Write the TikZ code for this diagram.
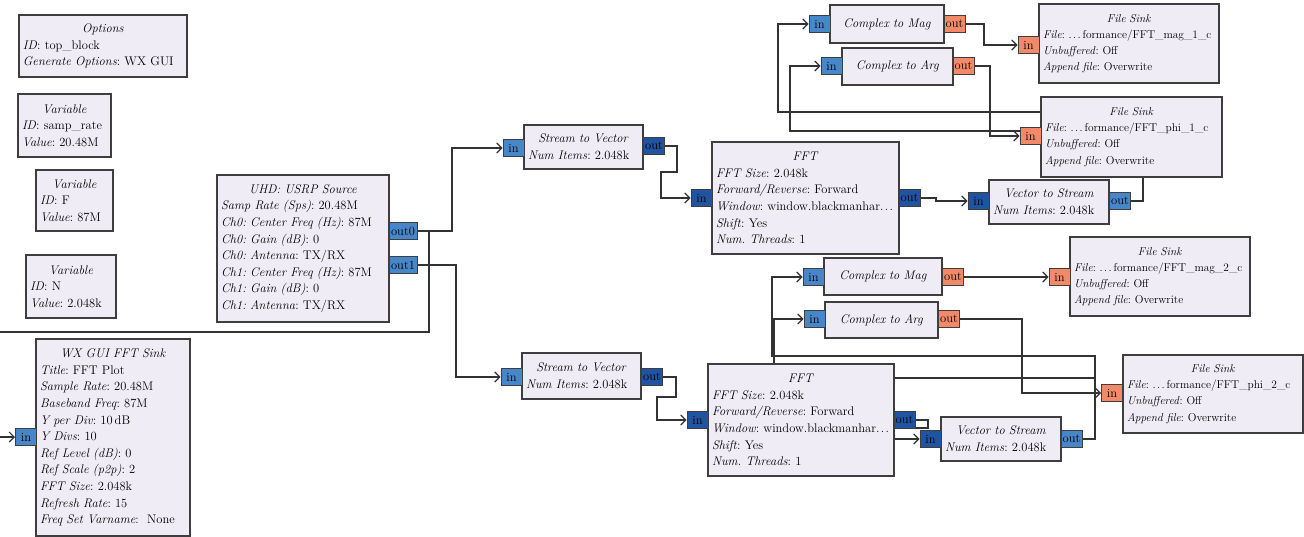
\documentclass[tikz,border=0pt]{standalone}
\usepackage{fontspec}
\usepackage{tikz}
\usetikzlibrary{arrows.meta,backgrounds}
\definecolor{blkfill}{RGB}{240,236,245}
\definecolor{blkline}{RGB}{62,62,62}
\definecolor{cplx}{RGB}{72,134,202}
\definecolor{vect}{RGB}{33,84,160}
\definecolor{flt}{RGB}{242,138,106}
\newcommand{\blktitle}[1]{\makebox[\linewidth]{\textit{#1}}}
\newcommand{\prm}[2]{\mbox{\textit{#1}: #2}}
\newcommand{\cut}{.\kern1.4pt.\kern1.4pt.}
\frenchspacing

\begin{document}
\begin{tikzpicture}[
  x=1pt, y=-1pt,
  font={\fontsize{12.5}{16.6}\selectfont},
  blk/.style={draw=blkline,fill=blkfill,line width=1.1pt,inner xsep=4pt,inner ysep=2pt,align=left},
  sink/.style={blk,font={\fontsize{11.4}{16.2}\selectfont}},
  port/.style={draw=blkline,line width=1pt,minimum width=21,minimum height=17,inner sep=0pt},
  cport/.style={port,fill=cplx},
  vport/.style={port,fill=vect},
  fport/.style={port,fill=flt},
  wire/.style={draw=black!80,line width=1.1pt},
  >={Straight Barb[length=5pt,width=10pt]}
]
\useasboundingbox (0,0) rectangle (1304,537);

% left column
\node[blk,text width=160pt,minimum height=62] (opt) at (103,46)
  {\blktitle{Options}\\\prm{ID}{top\_block}\\\prm{Generate Options}{WX GUI}};
\node[blk,text width=85pt,minimum height=63] (vrate) at (64.5,125.5)
  {\blktitle{Variable}\\\prm{ID}{samp\_rate}\\\prm{Value}{20.48M}};
\node[blk,text width=69pt,minimum height=61] (vfreq) at (74.5,200.5)
  {\blktitle{Variable}\\\prm{ID}{F}\\\prm{Value}{87M}};
\node[blk,text width=82pt,minimum height=63] (vsize) at (71,286.5)
  {\blktitle{Variable}\\\prm{ID}{N}\\\prm{Value}{2.048k}};
\node[blk,text width=146pt,minimum height=197] (wx) at (113,437.5)
  {\blktitle{WX GUI FFT Sink}\\\prm{Title}{FFT Plot}\\\prm{Sample Rate}{20.48M}\\
   \prm{Baseband Freq}{87M}\\\prm{Y per Div}{10\,dB}\\\prm{Y Divs}{10}\\
   \prm{Ref Level (dB)}{0}\\\prm{Ref Scale (p2p)}{2}\\\prm{FFT Size}{2.048k}\\
   \prm{Refresh Rate}{15}\\\prm{Freq Set Varname}{\ None}};
\node[cport] (wxi) at (26,437) {in};

% source
\node[blk,text width=164pt,minimum height=147] (usrp) at (303,248.5)
  {\blktitle{UHD: USRP Source}\\\prm{Samp Rate (Sps)}{20.48M}\\
   \prm{Ch0: Center Freq (Hz)}{87M}\\\prm{Ch0: Gain (dB)}{0}\\\prm{Ch0: Antenna}{TX/RX}\\
   \prm{Ch1: Center Freq (Hz)}{87M}\\\prm{Ch1: Gain (dB)}{0}\\\prm{Ch1: Antenna}{TX/RX}};
\node[cport,minimum width=28] (uo0) at (403,231) {out0};
\node[cport,minimum width=28] (uo1) at (403,265) {out1};

% channel 1
\node[blk,text width=111pt,minimum height=44] (stv1) at (583.5,147)
  {\blktitle{Stream to Vector}\\\prm{Num Items}{2.048k}};
\node[cport] (s1i) at (513.5,148) {in};
\node[vport] (s1o) at (654,146) {out};
\node[blk,text width=179pt,minimum height=112] (fft1) at (805.5,198)
  {\blktitle{FFT}\\\prm{FFT Size}{2.048k}\\\prm{Forward/Reverse}{Forward}\\
   \prm{Window}{window.blackmanhar\cut}\\\prm{Shift}{Yes}\\\prm{Num. Threads}{1}};
\node[vport] (f1i) at (701.5,198) {in};
\node[vport] (f1o) at (909.5,198) {out};
\node[blk,text width=112pt,minimum height=44] (vts1) at (1049,202)
  {\blktitle{Vector to Stream}\\\prm{Num Items}{2.048k}};
\node[vport] (v1i) at (978.5,201) {in};
\node[cport] (v1o) at (1120,201) {out};
\node[blk,text width=106pt,minimum height=38] (mag1) at (887,24) {\blktitle{Complex to Mag}};
\node[cport] (m1i) at (819.5,24) {in};
\node[fport] (m1o) at (954.5,24) {out};
\node[blk,text width=103pt,minimum height=37] (arg1) at (897.5,66.5) {\blktitle{Complex to Arg}};
\node[cport] (a1i) at (831.5,66) {in};
\node[fport] (a1o) at (963.5,66) {out};
\node[sink,text width=172pt,minimum height=79] (fs1) at (1129,43.5)
  {\blktitle{File Sink}\\\prm{File}{\cut\,formance/FFT\_mag\_1\_c}\\
   \prm{Unbuffered}{Off}\\\prm{Append file}{Overwrite}};
\node[fport] (fs1i) at (1028.5,45) {in};
\node[sink,text width=173pt,minimum height=80] (fs2) at (1131.5,137)
  {\blktitle{File Sink}\\\prm{File}{\cut\,formance/FFT\_phi\_1\_c}\\
   \prm{Unbuffered}{Off}\\\prm{Append file}{Overwrite}};
\node[fport] (fs2i) at (1030.5,136) {in};

% channel 2
\node[blk,text width=111pt,minimum height=46] (stv2) at (581.5,376)
  {\blktitle{Stream to Vector}\\\prm{Num Items}{2.048k}};
\node[cport] (s2i) at (511.5,377) {in};
\node[vport] (s2o) at (652,377) {out};
\node[blk,text width=178pt,minimum height=112] (fft2) at (801,420)
  {\blktitle{FFT}\\\prm{FFT Size}{2.048k}\\\prm{Forward/Reverse}{Forward}\\
   \prm{Window}{window.blackmanhar\cut}\\\prm{Shift}{Yes}\\\prm{Num. Threads}{1}};
\node[vport] (f2i) at (697.5,420) {in};
\node[vport] (f2o) at (904.5,420) {out};
\node[blk,text width=112pt,minimum height=44] (vts2) at (1001,439)
  {\blktitle{Vector to Stream}\\\prm{Num Items}{2.048k}};
\node[vport] (v2i) at (930.5,439) {in};
\node[cport] (v2o) at (1071.5,439) {out};
\node[blk,text width=110pt,minimum height=37] (mag2) at (883,276.5) {\blktitle{Complex to Mag}};
\node[cport] (m2i) at (813.5,277) {in};
\node[fport] (m2o) at (953,277) {out};
\node[blk,text width=105pt,minimum height=36] (arg2) at (881.5,320) {\blktitle{Complex to Arg}};
\node[cport] (a2i) at (814.5,319) {in};
\node[fport] (a2o) at (949,319) {out};
\node[sink,text width=172pt,minimum height=79] (fs3) at (1160,276.5)
  {\blktitle{File Sink}\\\prm{File}{\cut\,formance/FFT\_mag\_2\_c}\\
   \prm{Unbuffered}{Off}\\\prm{Append file}{Overwrite}};
\node[fport] (fs3i) at (1059.5,277) {in};
\node[sink,text width=172pt,minimum height=78] (fs4) at (1213,394)
  {\blktitle{File Sink}\\\prm{File}{\cut\,formance/FFT\_phi\_2\_c}\\
   \prm{Unbuffered}{Off}\\\prm{Append file}{Overwrite}};
\node[fport] (fs4i) at (1112,393) {in};

% connections, behind the blocks
\begin{pgfonlayer}{background}
\draw[wire,->] (uo0.east) -- (452,231) |- (s1i.west);
\draw[wire,->] (uo0.east) -- (429,231) -- (429,332) -- (-4,332) |- (wxi.west);
\draw[wire,->] (uo1.east) -- (456,265) |- (s2i.west);
\draw[wire,->] (s1o.east) -- (677,146) -- (677,172) -- (661,172) |- (f1i.west);
\draw[wire,->] (f1o.east) -| (936,201) -- (v1i.west);
\draw[wire,->] (v1o.east) -| (1143,112) -| (778,24) -- (m1i.west);
\draw[wire,->] (v1o.east) -| (1143,131) -| (790,66) -- (a1i.west);
\draw[wire,->] (m1o.east) -- (984,24) |- (fs1i.west);
\draw[wire,->] (a1o.east) -- (990,66) |- (fs2i.west);
\draw[wire,->] (s2o.east) -- (676,377) -- (676,397) -- (657,397) |- (f2i.west);
\draw[wire,->] (f2o.east) -- (928,420) -- (928,428) -- (880,428) |- (v2i.west);
\draw[wire,->] (v2o.east) -| (1095,356) -| (772,277) -- (m2i.west);
\draw[wire,->] (v2o.east) -| (1095,378) -| (774,319) -- (a2i.west);
\draw[wire,->] (m2o.east) -- (fs3i.west);
\draw[wire,->] (a2o.east) -- (1022,319) |- (fs4i.west);
\end{pgfonlayer}
\end{tikzpicture}
\end{document}
